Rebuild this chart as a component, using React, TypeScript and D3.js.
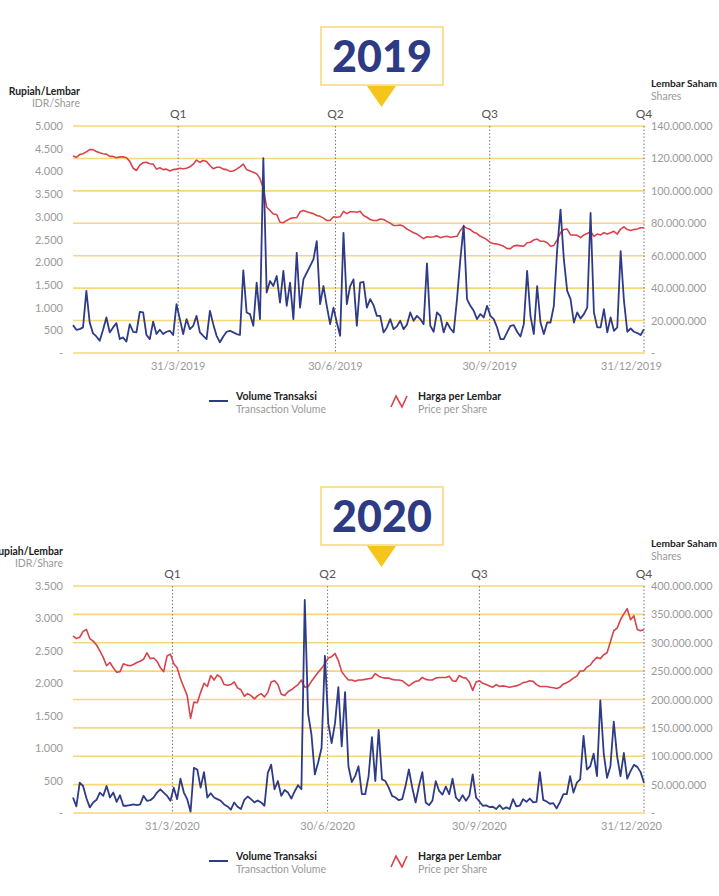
import React from "react";
import * as d3 from "d3";

// --- data ---
const quarterNames = ["Q1", "Q2", "Q3", "Q4"];

const dates2019 = ["31/3/2019", "30/6/2019", "30/9/2019", "31/12/2019"];
const dates2020 = ["31/3/2020", "30/6/2020", "30/9/2020", "31/12/2020"];

// position of each quarter end in trading-day index
const quarterIdx2019 = [31.5, 78.6, 124.8, 171];
const quarterIdx2020 = [29.6, 75.8, 121, 170];

const priceTicks2019 = [0, 500, 1000, 1500, 2000, 2500, 3000, 3500, 4000, 4500, 5000];
const volumeTicks2019 = [0, 20, 40, 60, 80, 100, 120, 140]; // million shares
const priceTicks2020 = [0, 500, 1000, 1500, 2000, 2500, 3000, 3500];
const volumeTicks2020 = [0, 50, 100, 150, 200, 250, 300, 350, 400]; // million shares

// Harga per Lembar (IDR)
const price2019 = [
  4340, 4310, 4370, 4390, 4430, 4480, 4480, 4440, 4410, 4390,
  4380, 4330, 4330, 4300, 4320, 4320, 4300, 4220, 4070, 4020,
  4140, 4190, 4200, 4170, 4160, 4050, 4080, 4040, 4050, 4010,
  4040, 4050, 4070, 4060, 4070, 4100, 4160, 4250, 4200, 4240,
  4220, 4130, 4060, 4090, 4090, 4050, 4040, 4000, 4010, 4050,
  4100, 4160, 4040, 4010, 3980, 3950, 3840, 3630, 3210, 3140,
  3060, 3050, 2880, 2870, 2920, 2960, 2980, 2980, 3110, 3140,
  3110, 3090, 3070, 3030, 3010, 2970, 2920, 2920, 3000, 2990,
  3000, 3120, 3070, 3110, 3110, 3100, 3120,
  3030, 2990, 2940, 2920, 2920, 2950, 2940, 2900, 2860, 2810,
  2810, 2820, 2790, 2730, 2690, 2650, 2620, 2570, 2520, 2560,
  2550, 2560, 2580, 2540, 2560, 2570, 2550, 2560, 2570, 2700,
  2790, 2750, 2720, 2660, 2630, 2570, 2540, 2490, 2430, 2410,
  2400, 2380, 2350, 2300, 2300, 2360, 2370, 2360, 2350, 2430,
  2440, 2490, 2510, 2460, 2460, 2430, 2350, 2370, 2490, 2650,
  2720, 2730, 2600, 2600, 2590, 2540, 2600, 2630, 2680, 2570,
  2620, 2600, 2650, 2620, 2650, 2680, 2620, 2730, 2780, 2720,
  2700, 2720, 2730, 2760, 2760,
];

// Volume Transaksi (million shares)
const volume2019 = [
  17.2, 14.3, 14.7, 15.8, 38.3, 18.8, 12.1, 10.2, 7.6, 14.3,
  21.9, 12.7, 15.8, 18.4, 8.6, 9.6, 7.0, 17.8, 13.1, 12.7,
  25.4, 25.0, 11.1, 8.6, 19.4, 11.7, 14.3, 11.7, 13.1, 13.7,
  11.1, 30.1, 20.9, 11.7, 20.9, 14.7, 16.8, 22.9, 12.7, 10.6,
  8.6, 26.0, 17.8, 10.6, 6.6, 10.2, 13.1, 13.7, 12.7, 11.7,
  11.1, 51.0, 25.0, 24.0, 16.8, 43.4, 20.9, 120.2, 37.3, 44.4,
  41.3, 47.5, 31.1, 50.6, 29.1, 43.4, 20.9, 61.8, 28.0, 45.4,
  49.5, 53.6, 57.7, 69.0, 30.1, 41.3, 29.1, 17.8, 28.0, 18.8,
  10.6, 74.1, 30.1, 41.3, 45.4, 16.8, 43.4,
  43.8, 28.0, 33.2, 29.5, 22.9, 22.9, 12.7, 15.8, 20.9, 14.7,
  16.4, 19.9, 14.7, 17.4, 25.0, 19.9, 22.9, 20.9, 17.8, 55.3,
  16.8, 13.1, 25.0, 22.9, 12.7, 18.8, 15.1, 12.7, 33.2, 57.7,
  78.6, 33.2, 29.1, 26.0, 20.9, 24.0, 21.9, 29.1, 22.9, 20.9,
  15.8, 8.6, 8.6, 12.7, 16.8, 17.2, 13.1, 10.2, 17.8, 50.6,
  22.9, 11.7, 41.3, 18.8, 11.7, 18.8, 18.8, 29.1, 63.9, 88.4,
  57.7, 38.3, 33.2, 18.8, 25.0, 21.3, 24.0, 28.0, 86.4, 25.0,
  15.8, 15.8, 27.0, 12.7, 21.9, 13.7, 15.8, 62.8, 32.1, 13.1,
  15.1, 13.1, 12.3, 11.1, 14.7,
];

const price2020 = [
  2730, 2690, 2710, 2800, 2830, 2690, 2650, 2590, 2500, 2400,
  2270, 2320, 2240, 2170, 2180, 2300, 2280, 2270, 2290, 2320,
  2340, 2370, 2470, 2380, 2390, 2340, 2240, 2180, 2420, 2450,
  2300, 2240, 2070, 1940, 1810, 1460, 1710, 1700, 1860, 2000,
  1950, 2120, 2050, 2130, 2090, 1980, 1970, 1980, 2020, 1930,
  1900, 1800, 1840, 1810, 1760, 1810, 1840, 1790, 1860, 2020,
  2040, 1980, 1830, 1810, 1870, 1900, 1940, 1980, 2050, 1940,
  1950, 2030, 2100, 2170, 2230, 2300, 2390, 2410, 2460, 2350,
  2180, 2110, 2050, 2050, 2030, 2050, 2050, 2060, 2070, 2080,
  2150, 2110, 2090, 2080, 2080, 2060, 2050, 2050, 2040, 2000,
  1960, 2000, 2030, 2040, 2090, 2060, 2050, 2050, 2080, 2090,
  2090, 2090, 2110, 2040, 2030, 2120, 2090, 2080, 2020, 1890,
  2020, 2040, 2000, 1980, 1960, 1940, 1980, 1950, 1960, 1950,
  1940, 1950, 1960, 1980, 2010, 2020, 2040, 2030, 1980, 1950,
  1950, 1950, 1940, 1930, 1920, 1940, 1990, 2010, 2040, 2080,
  2110, 2190, 2190, 2250, 2280, 2350, 2400, 2380, 2440, 2470,
  2640, 2810, 2850, 2980, 3070, 3150, 2980, 3040, 2830, 2810,
  2830,
];

const volume2020 = [
  27.3, 11.6, 53.4, 47.6, 26.1, 9.9, 18.6, 23.2, 36.0, 30.2,
  47.6, 27.3, 36.0, 19.7, 31.4, 12.8, 12.8, 13.9, 15.1, 13.9,
  15.1, 30.2, 21.5, 22.6, 27.3, 36.0, 41.8, 36.0, 30.2, 21.5,
  44.7, 24.4, 60.4, 36.0, 24.4, 2.3, 79.5, 76.6, 44.7, 72.0,
  27.3, 34.8, 27.3, 24.4, 21.5, 15.1, 11.6, 5.8, 18.6, 11.0,
  7.0, 23.2, 29.0, 24.4, 18.6, 22.1, 18.6, 12.8, 70.8, 85.3,
  41.8, 56.3, 30.2, 40.6, 36.0, 25.5, 38.3, 48.8, 41.8, 375.6,
  175.3, 137.6, 67.9, 89.4, 114.4, 276.9, 157.9, 123.1, 157.9, 221.8,
  117.3, 213.1, 82.4, 54.6, 65.0, 82.4, 33.1, 33.1, 65.0, 133.5,
  56.3, 146.3, 59.2, 56.3, 44.7, 30.2, 27.3, 22.6, 24.4, 47.6,
  76.6, 44.7, 18.6, 47.6, 72.0, 18.6, 13.9, 21.5, 56.3, 38.9,
  32.5, 46.4, 33.1, 60.4, 27.3, 20.9, 31.4, 21.5, 30.2, 67.9,
  27.3, 20.3, 12.8, 13.4, 10.5, 11.0, 7.0, 13.9, 7.0, 9.9,
  7.0, 24.4, 11.6, 12.8, 24.4, 19.7, 25.5, 18.6, 19.7, 72.0,
  23.2, 20.3, 16.3, 17.4, 8.1, 19.7, 33.1, 33.1, 65.0, 36.0,
  53.4, 59.2, 135.9, 76.6, 82.4, 104.5, 65.0, 198.6, 105.7, 62.1,
  82.4, 160.8, 99.9, 65.0, 105.7, 60.4, 73.7, 84.8, 81.3, 72.0,
  53.4,
];

const BLUE = "#2e3b86";
const RED = "#d8434b";
const GRID = "#f8d77a";
const GREY = "#9a9a9a";
const FONT = "Lato, 'Open Sans', sans-serif";

const fmtDots = (v: number) => (v === 0 ? "-" : d3.format(",")(v).replace(/,/g, "."));

const PLOT_L = 73;
const PLOT_R = 644;
const PLOT_H = 227;

type PanelProps = {
  top: number;
  year: string;
  price: number[];
  volume: number[];
  priceTicks: number[];
  volumeTicks: number[];
  quarterIdx: number[];
  dates: string[];
  titleRight: number;
};

function Panel({ top, year, price, volume, priceTicks, volumeTicks, quarterIdx, dates, titleRight }: PanelProps) {
  const x = d3.scaleLinear().domain([0, price.length - 1]).range([PLOT_L, PLOT_R]);
  const yP = d3.scaleLinear().domain([0, d3.max(priceTicks) as number]).range([top + PLOT_H, top]);
  const yV = d3.scaleLinear().domain([0, d3.max(volumeTicks) as number]).range([top + PLOT_H, top]);

  const priceLine = d3.line<number>().x((d, i) => x(i)).y((d) => yP(d));
  const volLine = d3.line<number>().x((d, i) => x(i)).y((d) => yV(d));

  const t = top;
  return (
    <g>
      {/* year badge */}
      <rect x={321} y={t - 99} width={122} height={58} fill="#fff" stroke={GRID} strokeWidth={1.5} />
      <text x={382} y={t - 54} textAnchor="middle" fontSize={43} fontWeight={900} fill="#2d3a84">
        {year}
      </text>
      <path d={`M367,${t - 40} L396,${t - 40} L381.5,${t - 19} Z`} fill="#f6c51b" />

      {/* axis titles */}
      <text x={titleRight} y={t - 31} textAnchor="end" fontSize={10.4} fontWeight={700} fill="#222">
        Rupiah/Lembar
      </text>
      <text x={titleRight} y={t - 19} textAnchor="end" fontSize={10.5} fill={GREY}>
        IDR/Share
      </text>
      <text x={651} y={t - 39} fontSize={10.2} fontWeight={700} fill="#222">
        Lembar Saham
      </text>
      <text x={651} y={t - 26} fontSize={10.5} fill={GREY}>
        Shares
      </text>

      {/* grid lines on the volume scale */}
      {volumeTicks.map((v) => (
        <line key={"g" + v} x1={PLOT_L} x2={PLOT_R + 1} y1={yV(v)} y2={yV(v)} stroke={GRID} strokeWidth={1.6} />
      ))}

      {/* quarter markers */}
      {quarterIdx.map((q, i) => (
        <g key={"q" + i}>
          <line x1={x(q)} x2={x(q)} y1={t} y2={t + PLOT_H} stroke="#777" strokeWidth={1} strokeDasharray="1.5,2" />
          <text x={x(q)} y={t - 8} textAnchor="middle" fontSize={12} fill="#555">
            {quarterNames[i]}
          </text>
          <text
            x={i === quarterIdx.length - 1 ? 662 : x(q)}
            y={t + 244}
            textAnchor={i === quarterIdx.length - 1 ? "end" : "middle"}
            fontSize={11}
            fill={GREY}
          >
            {dates[i]}
          </text>
        </g>
      ))}

      {/* left axis (price) */}
      {priceTicks.map((v) => (
        <text key={"p" + v} x={63} y={yP(v) + 4} textAnchor="end" fontSize={11} fill={GREY}>
          {fmtDots(v)}
        </text>
      ))}
      {/* right axis (volume) */}
      {volumeTicks.map((v) => (
        <text key={"v" + v} x={651} y={yV(v) + 4} fontSize={10.8} fill={GREY}>
          {fmtDots(v * 1e6)}
        </text>
      ))}

      <path d={priceLine(price) as string} fill="none" stroke={RED} strokeWidth={1.6} strokeLinejoin="round" />
      <path d={volLine(volume) as string} fill="none" stroke={BLUE} strokeWidth={1.8} strokeLinejoin="round" />

      {/* legend */}
      <line x1={209} x2={228} y1={t + 275} y2={t + 275} stroke={BLUE} strokeWidth={2} />
      <text x={236} y={t + 274} fontSize={10.5} fontWeight={700} fill="#222">
        Volume Transaksi
      </text>
      <text x={236} y={t + 287} fontSize={10.5} fill={GREY}>
        Transaction Volume
      </text>
      <path
        d={`M391,${t + 281} L396,${t + 270} L402,${t + 281} L407,${t + 270}`}
        fill="none"
        stroke={RED}
        strokeWidth={1.6}
      />
      <text x={418} y={t + 274} fontSize={10.5} fontWeight={700} fill="#222">
        Harga per Lembar
      </text>
      <text x={418} y={t + 287} fontSize={10.5} fill={GREY}>
        Price per Share
      </text>
    </g>
  );
}

export default function App() {
  return (
    <svg
      width={719}
      height={896}
      style={{ position: "absolute", left: 0, top: 0, background: "#fff" }}
      fontFamily={FONT}
    >
      <rect width={719} height={896} fill="#fff" />
      <Panel
        top={126}
        year="2019"
        price={price2019}
        volume={volume2019}
        priceTicks={priceTicks2019}
        volumeTicks={volumeTicks2019}
        quarterIdx={quarterIdx2019}
        dates={dates2019}
        titleRight={80}
      />
      <Panel
        top={586}
        year="2020"
        price={price2020}
        volume={volume2020}
        priceTicks={priceTicks2020}
        volumeTicks={volumeTicks2020}
        quarterIdx={quarterIdx2020}
        dates={dates2020}
        titleRight={63}
      />
    </svg>
  );
}
